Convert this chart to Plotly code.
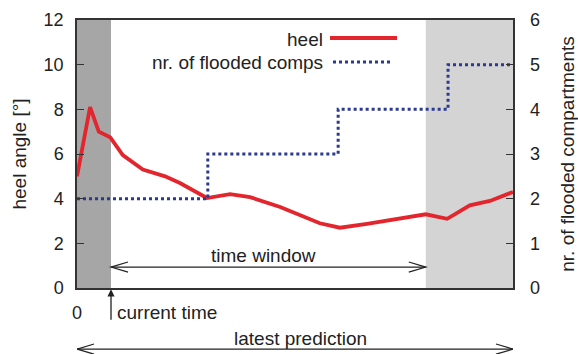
import plotly.graph_objects as go

# ---- data (time in % of prediction horizon) ----
heel_t = [0, 3.0, 5.0, 7.6, 10.5, 15.1, 20.2, 23.6, 29.8, 35.1, 39.7, 46.6, 55.7, 60.3, 66.5, 74.1, 80.0, 84.9, 90.1, 94.7, 100]
heel_deg = [5.0, 8.1, 7.0, 6.75, 5.95, 5.3, 5.0, 4.7, 4.03, 4.2, 4.07, 3.63, 2.9, 2.7, 2.87, 3.13, 3.3, 3.1, 3.7, 3.9, 4.3]

comp_t = [0, 30.0, 59.9, 85.1, 100]
comp_n = [2, 3, 4, 5, 5]

current_time = 7.8
window_end = 80.0
x_max = 100.0

left_ticks = [0, 2, 4, 6, 8, 10, 12]
right_ticks = [0, 1, 2, 3, 4, 5, 6]

RED = "#e3262d"
BLUE = "#2b3990"
FONT = "Liberation Sans, Arial, sans-serif"
FS = 19
TFS = 18

fig = go.Figure()
fig.add_trace(go.Scatter(x=heel_t, y=heel_deg, mode="lines",
                         line=dict(color=RED, width=3.8), showlegend=False, yaxis="y"))
fig.add_trace(go.Scatter(x=comp_t, y=comp_n, mode="lines", line_shape="hv",
                         line=dict(color=BLUE, width=3, dash="dot"), showlegend=False, yaxis="y2"))

shapes = []
# shaded regions
shapes.append(dict(type="rect", xref="x", yref="paper", x0=0, x1=current_time, y0=0, y1=1,
                   fillcolor="#a6a6a6", line_width=0, layer="below"))
shapes.append(dict(type="rect", xref="x", yref="paper", x0=window_end, x1=x_max, y0=0, y1=1,
                   fillcolor="#d4d4d4", line_width=0, layer="below"))

AC = "#222222"
def double_arrow(x0, x1, y):
    dx = 3.9
    dy = 0.019
    shapes.append(dict(type="line", xref="x", yref="paper", x0=x0, x1=x1, y0=y, y1=y,
                       line=dict(color=AC, width=1.2)))
    shapes.append(dict(type="path", xref="x", yref="paper",
                       path=f"M {x0+dx},{y+dy} L {x0},{y} L {x0+dx},{y-dy}",
                       line=dict(color=AC, width=1.2)))
    shapes.append(dict(type="path", xref="x", yref="paper",
                       path=f"M {x1-dx},{y+dy} L {x1},{y} L {x1-dx},{y-dy}",
                       line=dict(color=AC, width=1.2)))

double_arrow(current_time, window_end, 0.078)
double_arrow(0, x_max, -0.228)

# legend samples
shapes.append(dict(type="line", xref="paper", yref="paper", x0=(330-77)/436, x1=(397-77)/436,
                   y0=(288-38)/268, y1=(288-38)/268, line=dict(color=RED, width=3.8)))
shapes.append(dict(type="line", xref="paper", yref="paper", x0=(333-77)/436, x1=(392-77)/436,
                   y0=(288-62)/268, y1=(288-62)/268, line=dict(color=BLUE, width=3, dash="dot")))

annotations = [
    dict(text="heel", xref="paper", yref="paper", x=(325-77)/436, y=(288-39)/268,
         xanchor="right", yanchor="middle", showarrow=False, font=dict(size=FS, color="#222")),
    dict(text="nr. of flooded comps", xref="paper", yref="paper", x=(325-77)/436, y=(288-62)/268,
         xanchor="right", yanchor="middle", showarrow=False, font=dict(size=FS, color="#222")),
    dict(text="time window", xref="paper", yref="paper", x=(263-77)/436, y=(288-255)/268,
         xanchor="center", yanchor="middle", showarrow=False, font=dict(size=FS, color="#222")),
    dict(text="current time", xref="x", yref="paper", x=current_time + 0.8, y=(288-312)/268,
         xanchor="left", yanchor="middle", showarrow=False, font=dict(size=FS, color="#222")),
    dict(text="latest prediction", xref="paper", yref="paper", x=(300-77)/436, y=(288-338)/268,
         xanchor="center", yanchor="middle", showarrow=False, font=dict(size=FS, color="#222")),
    dict(text="", xref="x", yref="paper", x=current_time, y=-0.005, ax=0, ay=32,
         showarrow=True, arrowhead=2, arrowsize=1.1, arrowwidth=1.3, arrowcolor=AC),
]

fig.update_layout(
    width=578, height=354,
    margin=dict(l=77, r=65, t=20, b=66, autoexpand=False),
    paper_bgcolor="white", plot_bgcolor="white",
    font=dict(family=FONT, size=FS, color="#222"),
    showlegend=False,
    shapes=shapes,
    annotations=annotations,
    xaxis=dict(range=[0, x_max], tickvals=[0], ticktext=["0"], ticks="", showgrid=False,
               zeroline=False, showline=True, mirror=True, linecolor="#333", linewidth=1.5,
               tickfont=dict(size=TFS), ticklabelstandoff=8, automargin=False),
    yaxis=dict(range=[0, 12], tickvals=left_ticks, ticks="inside", ticklen=7, tickcolor="#333",
               showgrid=False, zeroline=False, showline=True, mirror=True, linecolor="#333",
               linewidth=1.5, ticklabelstandoff=8, automargin=False,
               title=dict(text="heel angle [°]", standoff=12, font=dict(size=FS)),
               tickfont=dict(size=TFS)),
    yaxis2=dict(range=[0, 6], tickvals=right_ticks, ticks="inside", ticklen=7, tickcolor="#333",
                overlaying="y", side="right", showgrid=False, zeroline=False, showline=False,
                ticklabelstandoff=16, automargin=False,
                title=dict(text="nr. of flooded compartments", standoff=26, font=dict(size=FS)),
                tickfont=dict(size=TFS)),
)

fig.write_html("out.html")
